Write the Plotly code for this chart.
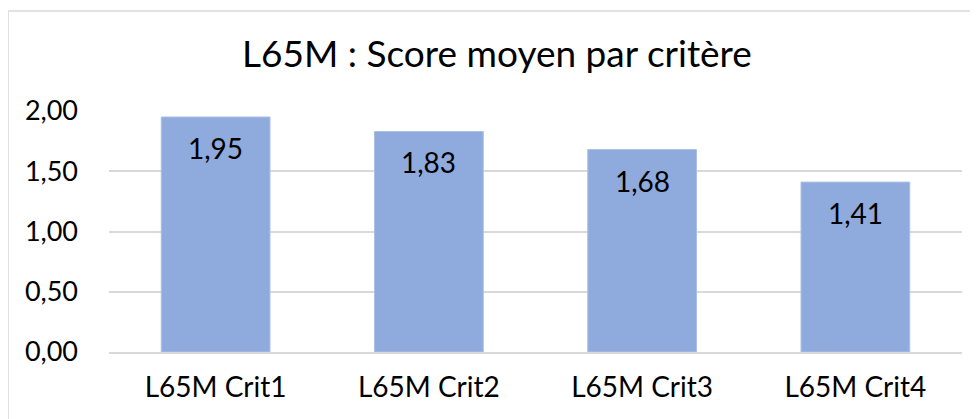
import plotly.graph_objects as go

categories = ["L65M Crit1", "L65M Crit2", "L65M Crit3", "L65M Crit4"]
scores = [1.95, 1.83, 1.68, 1.41]
y_ticks = [0, 0.5, 1.0, 1.5, 2.0]

FONT = "Lato, 'Open Sans', sans-serif"
FS = 28

fig = go.Figure(go.Bar(
    x=categories, y=scores,
    marker=dict(color="#8FAADC", line=dict(color="#A9C0E6", width=1)),
    hoverinfo="x+y",
))

for c, v in zip(categories, scores):
    fig.add_annotation(x=c, y=v, xref="x", yref="y",
                       text=f"{v:.2f}".replace(".", ","),
                       showarrow=False, yanchor="middle", yshift=-31,
                       font=dict(family=FONT, size=FS, color="#000000"))

fig.update_layout(
    width=978, height=419,
    margin=dict(l=101, r=24, t=103, b=75, autoexpand=False),
    paper_bgcolor="white", plot_bgcolor="white",
    separators=", ",
    bargap=0.49,
    showlegend=False,
    title=dict(text="L65M : Score moyen par critère", x=0.5, xanchor="center",
               y=0.89, yanchor="middle",
               font=dict(family=FONT, size=37, color="#000000")),
    font=dict(family=FONT, size=FS, color="#000000"),
    shapes=[dict(type="rect", xref="paper", yref="paper",
                 x0=-0.1184, x1=1.2, y0=-0.6, y1=1.415,
                 line=dict(color="#D9D9D9", width=1.5), layer="below")],
)
fig.update_yaxes(range=[0, 2.0], tickvals=y_ticks, tickformat=".2f",
                 showgrid=True, gridcolor="#D9D9D9", gridwidth=1.5,
                 zeroline=False, showline=False, ticklabelstandoff=30,
                 automargin=False,
                 tickfont=dict(family=FONT, size=27, color="#000000"))
fig.update_xaxes(showline=True, linecolor="#D9D9D9", linewidth=1.5,
                 ticks="", ticklabelstandoff=10, automargin=False,
                 tickfont=dict(family=FONT, size=FS, color="#000000"))

fig.write_html("out.html")
